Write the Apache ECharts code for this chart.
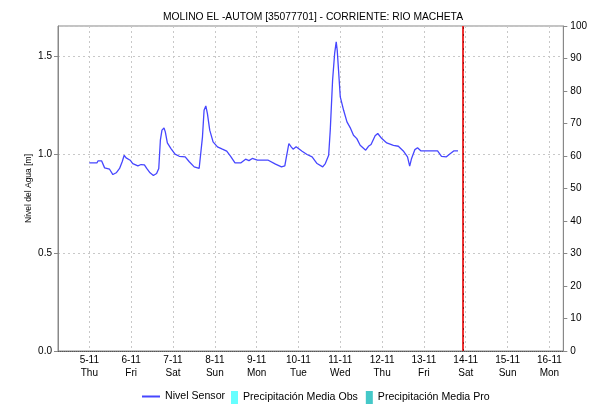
<!DOCTYPE html>
<html>
<head>
<meta charset="utf-8">
<script src="https://cdn.jsdelivr.net/npm/echarts@6/dist/echarts.min.js"></script>
<style>
  html, body { margin: 0; padding: 0; background: #fff; }
  #chart { width: 590px; height: 407px; }
</style>
</head>
<body>
<div id="chart"></div>
<script>
// nivel del agua (m)
const sensorTimes = [
  '2020-11-05 00:00', '2020-11-05 04:20', '2020-11-05 05:00', '2020-11-05 07:00', '2020-11-05 08:45',
  '2020-11-05 11:35', '2020-11-05 13:30', '2020-11-05 15:25', '2020-11-05 17:20', '2020-11-05 18:50',
  '2020-11-05 20:00', '2020-11-05 21:05', '2020-11-05 23:25', '2020-11-06 00:55', '2020-11-06 03:50',
  '2020-11-06 05:40', '2020-11-06 07:35', '2020-11-06 08:55', '2020-11-06 10:50', '2020-11-06 12:45',
  '2020-11-06 14:35', '2020-11-06 15:50', '2020-11-06 16:45', '2020-11-06 17:40', '2020-11-06 18:50',
  '2020-11-06 19:35', '2020-11-06 20:45', '2020-11-06 22:50', '2020-11-07 01:10', '2020-11-07 03:35',
  '2020-11-07 07:00', '2020-11-07 09:20', '2020-11-07 12:10', '2020-11-07 15:00', '2020-11-07 15:45',
  '2020-11-07 16:55', '2020-11-07 17:50', '2020-11-07 18:50', '2020-11-07 19:45', '2020-11-07 21:05',
  '2020-11-07 23:00', '2020-11-08 01:30', '2020-11-08 04:20', '2020-11-08 06:50', '2020-11-08 09:05',
  '2020-11-08 11:35', '2020-11-08 14:50', '2020-11-08 17:40', '2020-11-08 19:35', '2020-11-08 21:30',
  '2020-11-09 00:25', '2020-11-09 06:40', '2020-11-09 07:25', '2020-11-09 10:50', '2020-11-09 14:15',
  '2020-11-09 16:10', '2020-11-09 17:05', '2020-11-09 18:30', '2020-11-09 19:50', '2020-11-09 20:55',
  '2020-11-09 22:40', '2020-11-10 02:05', '2020-11-10 04:55', '2020-11-10 07:50', '2020-11-10 10:40',
  '2020-11-10 13:55', '2020-11-10 15:25', '2020-11-10 17:20', '2020-11-10 18:15', '2020-11-10 19:35',
  '2020-11-10 20:45', '2020-11-10 21:40', '2020-11-10 22:15', '2020-11-10 23:00', '2020-11-11 00:00',
  '2020-11-11 01:55', '2020-11-11 03:50', '2020-11-11 05:40', '2020-11-11 07:35', '2020-11-11 09:30',
  '2020-11-11 11:25', '2020-11-11 14:35', '2020-11-11 16:10', '2020-11-11 17:40', '2020-11-11 20:00',
  '2020-11-11 21:30', '2020-11-11 23:50', '2020-11-12 02:40', '2020-11-12 06:30', '2020-11-12 09:20',
  '2020-11-12 12:10', '2020-11-12 14:35', '2020-11-12 15:50', '2020-11-12 16:55', '2020-11-12 18:50',
  '2020-11-12 20:20', '2020-11-12 22:20', '2020-11-13 07:50', '2020-11-13 10:05', '2020-11-13 12:55',
  '2020-11-13 14:50', '2020-11-13 17:05', '2020-11-13 19:35'
];
const sensorValues = [
  0.957, 0.957, 0.968, 0.968, 0.932,
  0.925, 0.898, 0.907, 0.929, 0.963,
  0.996, 0.983, 0.971, 0.954, 0.942,
  0.949, 0.947, 0.929, 0.907, 0.893,
  0.903, 0.929, 1.073, 1.124, 1.135,
  1.115, 1.059, 1.030, 1.002, 0.991,
  0.988, 0.963, 0.937, 0.929, 0.937,
  1.090, 1.225, 1.247, 1.208, 1.124,
  1.064, 1.039, 1.027, 1.017, 0.991,
  0.957, 0.957, 0.976, 0.969, 0.980,
  0.971, 0.971, 0.963, 0.951, 0.937,
  0.942, 0.988, 1.056, 1.039, 1.027,
  1.039, 1.017, 1.000, 0.988, 0.954,
  0.937, 0.954, 0.996, 1.124, 1.378,
  1.513, 1.573, 1.530, 1.429, 1.293,
  1.225, 1.166, 1.137, 1.098, 1.081,
  1.047, 1.022, 1.042, 1.051, 1.095,
  1.107, 1.081, 1.059, 1.047, 1.042,
  1.018, 0.988, 0.941, 0.980, 1.025,
  1.034, 1.018, 1.018, 0.991, 0.988,
  1.002, 1.018, 1.018
];
// precipitacion: sin datos en la grafica
const precipObs = [];
const precipPro = [];

const axisStart = '2020-11-04 06:00';
const axisEnd = '2020-11-16 08:00';
const nowLine = '2020-11-13 22:20';
const dayNames = ['Sun', 'Mon', 'Tue', 'Wed', 'Thu', 'Fri', 'Sat'];

const DAY = 24 * 3600 * 1000;
const font = 'Liberation Sans';

// 'yyyy-mm-dd hh:mm' -> timestamp (hora local)
function toTime(s) {
  var p = s.split(/[- :]/).map(Number);
  return new Date(p[0], p[1] - 1, p[2], p[3], p[4]).getTime();
}

var chart = echarts.init(document.getElementById('chart'));

var option = {
  animation: false,
  textStyle: { fontFamily: font },
  title: {
    text: 'MOLINO EL -AUTOM [35077701] - CORRIENTE: RIO MACHETA',
    left: 308,
    textAlign: 'center',
    top: 7,
    textStyle: { fontSize: 10.3, fontWeight: 'normal', color: '#000', fontFamily: font }
  },
  legend: [
    {
      data: ['Nivel Sensor'],
      left: 137,
      top: 386,
      icon: 'rect',
      itemWidth: 18,
      itemHeight: 2,
      textStyle: { fontSize: 10.6, color: '#000', fontFamily: font }
    },
    {
      data: ['Precipitación Media Obs', 'Precipitación Media Pro'],
      left: 226,
      top: 386,
      icon: 'rect',
      itemWidth: 7,
      itemHeight: 13,
      itemGap: 8,
      itemStyle: { borderWidth: 0 },
      textStyle: { fontSize: 10.6, color: '#000', fontFamily: font }
    }
  ],
  grid: { left: 58, right: 26, top: 26, bottom: 56, show: true, borderColor: '#888', borderWidth: 1 },
  xAxis: {
    type: 'time',
    min: toTime(axisStart),
    max: toTime(axisEnd),
    maxInterval: DAY,
    axisLine: { show: true, lineStyle: { color: '#555', type: [1, 1], width: 1 } },
    axisTick: { show: false },
    axisLabel: {
      showMinLabel: false,
      showMaxLabel: false,
      fontSize: 10,
      color: '#000',
      lineHeight: 13,
      margin: 3,
      formatter: function (v) {
        var d = new Date(v);
        return d.getDate() + '-' + (d.getMonth() + 1) + '\n' + dayNames[d.getDay()];
      }
    },
    splitLine: { show: true, lineStyle: { color: '#c8c8c8', type: [2, 3] } }
  },
  yAxis: [
    {
      type: 'value',
      name: 'Nivel del Agua [m]',
      nameLocation: 'middle',
      nameGap: 25,
      nameMoveOverlap: false,
      nameTextStyle: { fontSize: 8.5, color: '#000', fontFamily: font },
      min: 0,
      max: 1.654,
      interval: 0.5,
      axisLine: { show: true, lineStyle: { color: '#888' } },
      axisTick: { show: true, length: 4, lineStyle: { color: '#888' } },
      axisLabel: {
        showMaxLabel: false,
        fontSize: 10,
        color: '#000',
        margin: 6,
        formatter: function (v) { return v.toFixed(1); }
      },
      splitLine: { show: true, lineStyle: { color: '#c8c8c8', type: [2, 3] } }
    },
    {
      type: 'value',
      position: 'right',
      min: 0,
      max: 100,
      interval: 10,
      axisLine: { show: true, lineStyle: { color: '#888' } },
      axisTick: { show: true, length: 4, lineStyle: { color: '#888' } },
      axisLabel: { fontSize: 10, color: '#000', margin: 7 },
      splitLine: { show: false }
    }
  ],
  series: [
    {
      name: 'Nivel Sensor',
      type: 'line',
      showSymbol: false,
      color: '#4646ff',
      lineStyle: { width: 1.3, color: '#4646ff' },
      data: sensorTimes.map(function (t, i) { return [toTime(t), sensorValues[i]]; }),
      markLine: {
        silent: true,
        symbol: 'none',
        label: { show: false },
        data: [
          { xAxis: toTime(nowLine), lineStyle: { color: '#ee3333', width: 2, type: 'solid' } },
          { xAxis: toTime(nowLine), lineStyle: { color: '#991111', width: 1, type: [2, 5] } }
        ]
      }
    },
    {
      name: 'Precipitación Media Obs',
      type: 'line',
      yAxisIndex: 1,
      color: '#66ffff',
      data: precipObs
    },
    {
      name: 'Precipitación Media Pro',
      type: 'line',
      yAxisIndex: 1,
      color: '#44c8c8',
      data: precipPro
    }
  ]
};

option && chart.setOption(option);
</script>
</body>
</html>
